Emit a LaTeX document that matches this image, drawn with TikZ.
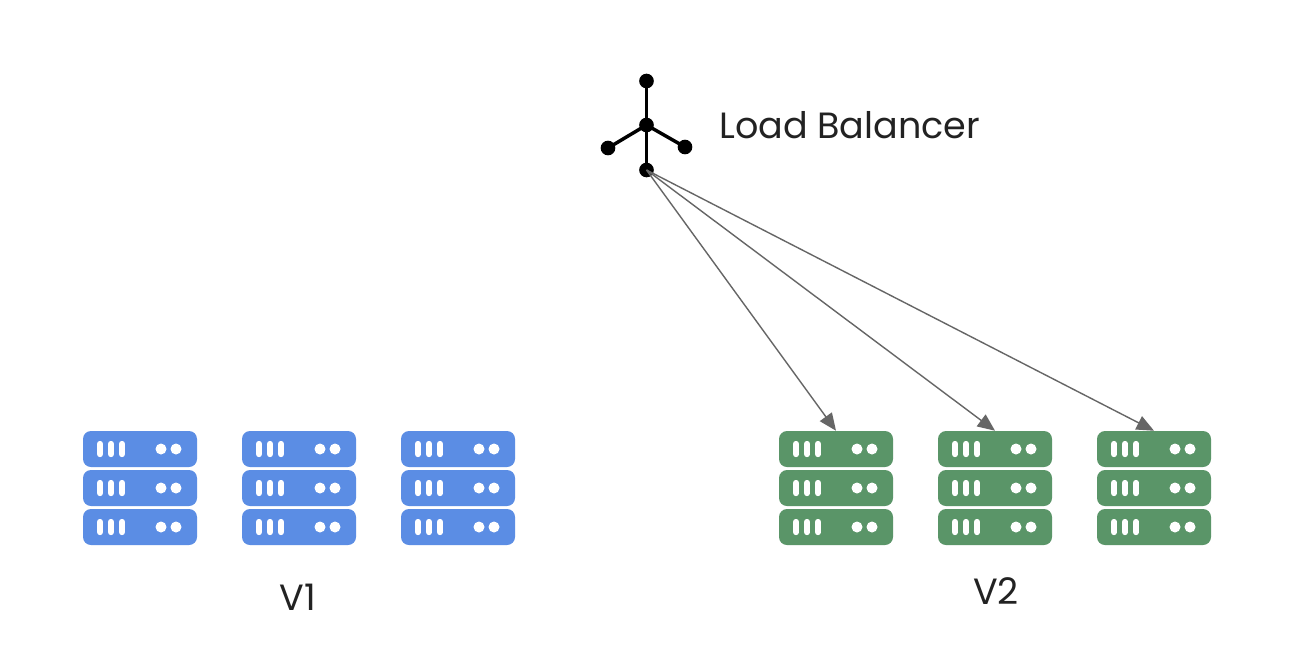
\documentclass[tikz,border=0pt]{standalone}
\usepackage{fontspec}
\setmainfont{Poppins}
\usetikzlibrary{arrows.meta}
\definecolor{srvblue}{HTML}{5B8DE4}
\definecolor{srvgreen}{HTML}{5A9568}
\definecolor{arrowgray}{HTML}{666666}
\definecolor{inktext}{HTML}{222222}
\tikzset{
  x=0.75pt,y=-0.75pt,
  stackbox/.style={inner sep=0pt,minimum width=85.5pt,minimum height=85.5pt,draw=none},
  lbdot/.style={circle,fill=black,inner sep=0pt,minimum size=11pt},
  lbline/.style={line width=2.6pt,draw=black},
  feed/.style={draw=arrowgray,line width=1.05pt,-{Triangle[length=13pt,width=11pt]}},
  label/.style={text=inktext,inner sep=0pt,font=\fontsize{27.4}{32}\selectfont},
  pics/serverstack/.style={code={
    \foreach \ry in {-39,0,39}{
      \fill[#1,rounded corners=6pt] (-57,\ry-18) rectangle (57,\ry+18);
      \foreach \bx in {-40,-29,-18}{
        \fill[white,rounded corners=1.8pt] (\bx-2.8,\ry-8) rectangle (\bx+2.8,\ry+8);
      }
      \fill[white] (21,\ry) circle[radius=5.5];
      \fill[white] (36,\ry) circle[radius=5.5];
    }
  }}
}
\begin{document}
\begin{tikzpicture}
\useasboundingbox (0,0) rectangle (1308,662);
\fill[white] (0,0) rectangle (1308,662);
\foreach \cx in {140,299,458}{ \pic at (\cx,488) {serverstack=srvblue}; }
\foreach \cx in {836,995,1154}{ \pic at (\cx,488) {serverstack=srvgreen}; }
\node[stackbox] (g1) at (836,488) {};
\node[stackbox] (g2) at (995,488) {};
\node[stackbox] (g3) at (1154,488) {};
\node[lbdot] (top) at (646.5,81) {};
\node[lbdot] (hub) at (646.5,125) {};
\node[lbdot] (left) at (608,148) {};
\node[lbdot] (right) at (685,147) {};
\node[lbdot] (bot) at (646.5,170) {};
\draw[lbline] (top.center) -- (hub.center);
\draw[lbline] (hub.center) -- (bot.center);
\draw[lbline] (hub.center) -- (left.center);
\draw[lbline] (hub.center) -- (right.center);
\draw[feed] (bot.center) -- (g1.north);
\draw[feed] (bot.center) -- (g2.north);
\draw[feed] (bot.center) -- (g3.north);
\node[label,anchor=west] (lb) at (719,125) {Load Balancer};
\node[label] (v1) at (298,597) {V1};
\node[label] (v2) at (996,591) {V2};
\end{tikzpicture}
\end{document}
